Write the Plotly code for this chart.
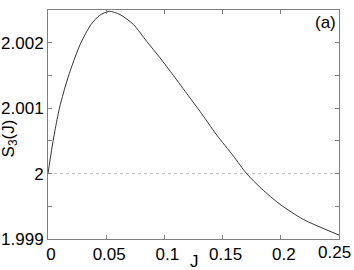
import plotly.graph_objects as go

J = [0.0, 0.003, 0.006, 0.0097, 0.014, 0.0183, 0.0233, 0.0283, 0.037, 0.0445, 0.0527,
     0.0619, 0.0733, 0.0848, 0.0962, 0.1077, 0.1206, 0.1306, 0.1449, 0.1592, 0.1706,
     0.1834, 0.1993, 0.2193, 0.25]
S3 = [2.0, 2.00035, 2.00066, 2.00099, 2.00128, 2.00153, 2.00178, 2.002, 2.00228, 2.00242,
      2.00248, 2.00243, 2.00228, 2.00202, 2.00177, 2.0015, 2.00119, 2.00095, 2.00059,
      2.00027, 2.0, 1.99977, 1.99953, 1.9993, 1.99906]
ref_J = [0.0, 0.25]
ref_S = [2.0, 2.0]
xticks = [0, 0.05, 0.1, 0.15, 0.2, 0.25]
xticklabels = ["0", "0.05", "0.1", "0.15", "0.2", "0.25"]
yticks = [1.999, 2.0, 2.001, 2.002]
yticklabels = ["1.999", "2", "2.001", "2.002"]

fig = go.Figure()
fig.add_trace(go.Scatter(x=ref_J, y=ref_S, mode="lines",
                         line=dict(color="#bbbbbb", width=1, dash="dot"),
                         showlegend=False, hoverinfo="skip"))
fig.add_trace(go.Scatter(x=J, y=S3, mode="lines", line_shape="spline",
                         line=dict(color="#333333", width=1, smoothing=0.7),
                         showlegend=False))

font = dict(family="Liberation Sans, Arial, Helvetica, sans-serif", size=17, color="black")
axis_common = dict(showline=True, linecolor="#7f7f7f", linewidth=1, mirror="ticks",
                   ticks="inside", ticklen=4, tickcolor="#7f7f7f", showgrid=False,
                   zeroline=False, tickfont=font, automargin=False)
# last x label drawn separately (shifted left to stay inside the figure, as in the reference)
fig.update_xaxes(range=[0, 0.25], tickvals=xticks,
                 ticktext=xticklabels[:-1] + [""], ticklabelshift=3, **axis_common)
fig.update_yaxes(range=[1.999, 2.0025], tickvals=yticks, ticktext=yticklabels,
                 minor=dict(ticks="inside", ticklen=4, tickcolor="#7f7f7f", dtick=0.0005,
                            tick0=1.999, showgrid=False),
                 **axis_common)

fig.update_layout(
    width=354, height=270,
    margin=dict(l=48, r=15, t=10, b=31),
    plot_bgcolor="white", paper_bgcolor="white",
    font=font,
    annotations=[
        dict(text=xticklabels[-1], x=xticks[-1], y=0, xref="x", yref="paper",
             xanchor="right", yanchor="top", xshift=14, yshift=-2,
             showarrow=False, font=font),
        dict(text="J", x=0.502, y=-0.097, xref="paper", yref="paper",
             xanchor="center", yanchor="middle", showarrow=False, font=font),
        dict(text="S<sub>3</sub>(J)", x=-0.13, y=0.44, xref="paper", yref="paper",
             xanchor="center", yanchor="middle", textangle=-90, showarrow=False, font=font),
        dict(text="(a)", x=0.995, y=0.995, xref="paper", yref="paper",
             xanchor="right", yanchor="top", showarrow=False, font=font),
    ],
)
fig.write_html("out.html", post_script="document.body.style.margin='0';",
               config={"displayModeBar": False})
